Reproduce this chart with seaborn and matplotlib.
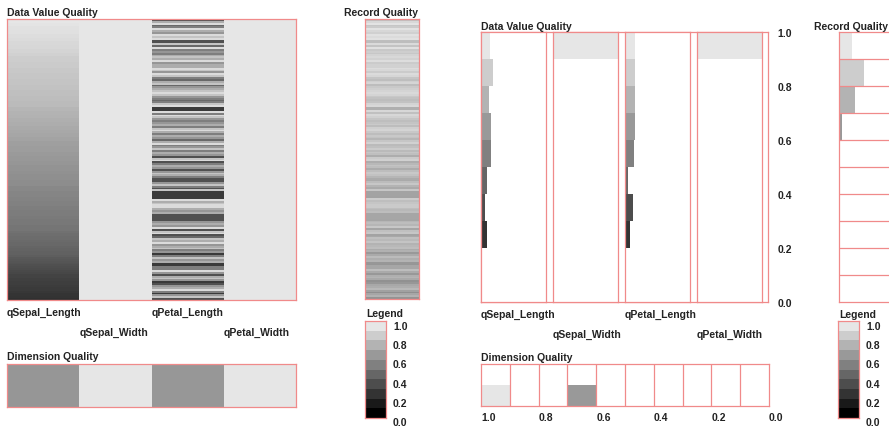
import numpy as np
import pandas as pd
import matplotlib
matplotlib.use("Agg")
import matplotlib.pyplot as plt
from matplotlib.colors import LinearSegmentedColormap
import seaborn as sns

W, H = 889, 431

# quality values per record (150 records)
dims = ["qSepal_Length", "qSepal_Width", "qPetal_Length", "qPetal_Width"]

q_sepal_length = [
    1.00, 1.00, 0.99, 0.99, 0.98, 0.98, 0.97, 0.97, 0.96, 0.96,
    0.95, 0.95, 0.94, 0.94, 0.93, 0.93, 0.92, 0.92, 0.91, 0.91,
    0.89, 0.89, 0.89, 0.88, 0.88, 0.88, 0.87, 0.87, 0.87, 0.86,
    0.86, 0.86, 0.85, 0.85, 0.85, 0.84, 0.84, 0.84, 0.83, 0.83,
    0.83, 0.82, 0.82, 0.82, 0.81, 0.81, 0.81,
    0.79, 0.79, 0.78, 0.78, 0.77, 0.77, 0.76, 0.76, 0.75, 0.75,
    0.74, 0.74, 0.73, 0.73, 0.72, 0.72, 0.71, 0.71,
    0.69, 0.69, 0.69, 0.68, 0.68, 0.68, 0.67, 0.67, 0.66, 0.66,
    0.66, 0.65, 0.65, 0.64, 0.64, 0.64, 0.63, 0.63, 0.62, 0.62,
    0.62, 0.61, 0.61, 0.61,
    0.59, 0.59, 0.59, 0.58, 0.58, 0.58, 0.57, 0.57, 0.56, 0.56,
    0.56, 0.55, 0.55, 0.54, 0.54, 0.54, 0.53, 0.53, 0.52, 0.52,
    0.52, 0.51, 0.51, 0.51,
    0.49, 0.48, 0.48, 0.47, 0.47, 0.46, 0.45, 0.45, 0.44, 0.43,
    0.43, 0.42, 0.42, 0.41,
    0.39, 0.38, 0.37, 0.36, 0.35, 0.34, 0.33, 0.32, 0.31,
    0.29, 0.29, 0.28, 0.28, 0.27, 0.27, 0.26, 0.25, 0.25, 0.24,
    0.23, 0.23, 0.22, 0.21,
]
q_sepal_width = [1.0] * 150
q_petal_length = [
    0.35, 0.75, 0.95, 0.45, 0.55, 0.95, 0.75, 0.65, 0.95, 0.85,
    0.95, 0.35, 0.35, 0.85, 0.45, 0.95, 0.55, 0.65, 0.55, 0.75,
    0.85, 0.75, 0.95, 0.65, 0.75, 0.75, 0.95, 0.85, 0.65, 0.95,
    0.85, 0.55, 0.45, 0.75, 0.85, 0.45, 0.65, 0.75, 0.85, 0.95,
    0.85, 0.65, 0.55, 0.45, 0.55, 0.85, 0.95, 0.25, 0.25, 0.95,
    0.55, 0.95, 0.85, 0.65, 0.55, 0.65, 0.75, 0.55, 0.85, 0.95,
    0.75, 0.55, 0.75, 0.65, 0.45, 0.75, 0.95, 0.55, 0.65, 0.85,
    0.55, 0.75, 0.65, 0.35, 0.85, 0.95, 0.35, 0.55, 0.75, 0.65,
    0.35, 0.65, 0.85, 0.75, 0.55, 0.35, 0.35, 0.65, 0.85, 0.55,
    0.35, 0.85, 0.25, 0.25, 0.25, 0.25, 0.95, 0.75, 0.85, 0.95,
    0.95, 0.75, 0.65, 0.75, 0.35, 0.35, 0.35, 0.35, 0.65, 0.75,
    0.65, 0.95, 0.35, 0.85, 0.95, 0.35, 0.45, 0.85, 0.75, 0.95,
    0.65, 0.75, 0.85, 0.55, 0.65, 0.25, 0.55, 0.85, 0.65, 0.75,
    0.25, 0.25, 0.55, 0.55, 0.95, 0.65, 0.35, 0.75, 0.85, 0.65,
    0.25, 0.35, 0.65, 0.75, 0.95, 0.55, 0.25, 0.65, 0.85, 0.35,
]
q_petal_width = [1.0] * 150

legend_levels = [0.9, 0.8, 0.7, 0.6, 0.5, 0.4, 0.3, 0.2, 0.1, 0.0]
axis_ticks = [1.0, 0.8, 0.6, 0.4, 0.2, 0.0]

df = pd.DataFrame({
    "qSepal_Length": q_sepal_length,
    "qSepal_Width": q_sepal_width,
    "qPetal_Length": q_petal_length,
    "qPetal_Width": q_petal_width,
})
dim_quality = df.mean()
record_quality = df.mean(axis=1)

sns.set_theme(style="white")
plt.rcParams["font.family"] = ["Liberation Sans", "DejaVu Sans"]

RED = "#f08a8a"
TXT = "#222222"
FS = 7.5
cmap = LinearSegmentedColormap.from_list("quality", ["#000000", "#e6e6e6"])

fig = plt.figure(figsize=(W / 100, H / 100), dpi=100)
fig.patch.set_facecolor("white")


def px_ax(x0, y0, x1, y1):
    return fig.add_axes([x0 / W, 1 - y1 / H, (x1 - x0) / W, (y1 - y0) / H])


def label(x, y, s):
    fig.text(x / W, 1 - y / H, s, ha="left", va="center", fontsize=FS,
             fontweight="bold", color=TXT)


def frame(ax):
    for s in ax.spines.values():
        s.set_visible(True)
        s.set_color(RED)
        s.set_linewidth(0.9)
    ax.set_xticks([])
    ax.set_yticks([])
    ax.set_xlabel("")
    ax.set_ylabel("")


def color_bins(ax, horizontal=True):
    for p in ax.patches:
        lo = p.get_y() if horizontal else p.get_x()
        k = min(int(round(lo * 10)), 9)
        p.set_facecolor(cmap(k / 9))
        p.set_edgecolor("none")


# ---------------- left view: heatmaps ----------------
ax = px_ax(7, 20, 296, 301)
sns.heatmap(df, ax=ax, cmap=cmap, vmin=0, vmax=1, cbar=False,
            xticklabels=False, yticklabels=False)
frame(ax)
label(7, 13, "Data Value Quality")
col_w = (296 - 7) / 4
for i, name in enumerate(dims):
    label(7 + i * col_w, 313 if i % 2 == 0 else 333, name)

ax = px_ax(7, 365, 296, 408)
sns.heatmap(dim_quality.to_frame().T, ax=ax, cmap=cmap, vmin=0, vmax=1,
            cbar=False, xticklabels=False, yticklabels=False)
frame(ax)
label(7, 357, "Dimension Quality")

ax = px_ax(365, 20, 419, 300)
sns.heatmap(record_quality.to_frame(), ax=ax, cmap=cmap, vmin=0, vmax=1,
            cbar=False, xticklabels=False, yticklabels=False)
frame(ax)
label(344, 13, "Record Quality")


def draw_legend(x0, y_title):
    lax = px_ax(x0, 322, x0 + 21, 419)
    sns.heatmap(np.array(legend_levels).reshape(-1, 1), ax=lax, cmap=cmap,
                vmin=0, vmax=0.9, cbar=False, xticklabels=False,
                yticklabels=False)
    frame(lax)
    label(x0 + 1, y_title, "Legend")
    for v in axis_ticks:
        label(x0 + 28, 327 + (1 - v) * 96, f"{v:.1f}")


draw_legend(365, 314)

# ---------------- right view: histograms ----------------
outer = px_ax(481, 33, 768, 303)
frame(outer)
outer.set_ylim(0, 1)
outer.yaxis.tick_right()
outer.set_yticks(axis_ticks)
outer.set_yticklabels([f"{v:.1f}" for v in axis_ticks], fontsize=FS,
                      fontweight="bold", color=TXT)
outer.tick_params(axis="y", length=0, pad=7)
label(481, 27, "Data Value Quality")

lefts = [481, 553, 625, 697]
for i, name in enumerate(dims):
    hax = px_ax(lefts[i], 33, lefts[i] + 65, 303)
    sns.histplot(y=df[name], bins=10, binrange=(0, 1), ax=hax,
                 alpha=1, linewidth=0)
    color_bins(hax)
    hax.set_xlim(0, 150)
    hax.set_ylim(0, 1)
    frame(hax)
    label(lefts[i], 315 if i % 2 == 0 else 335, name)

# record quality histogram (runs past the right edge)
rax = px_ax(839, 33, 915, 303)
sns.histplot(y=record_quality, bins=10, binrange=(0, 1), ax=rax,
             alpha=1, linewidth=0)
color_bins(rax)
rax.set_xlim(0, 200)
rax.set_ylim(0, 1)
for v in np.arange(1, 10) / 10:
    rax.axhline(v, color=RED, lw=0.9)
frame(rax)
label(814, 27, "Record Quality")

# dimension quality histogram
dax = px_ax(481, 365, 769, 407)
sns.histplot(x=dim_quality, bins=10, binrange=(0, 1), ax=dax,
             alpha=1, linewidth=0)
color_bins(dax, horizontal=False)
dax.set_xlim(1, 0)
dax.set_ylim(0, 4)
for v in np.arange(1, 10) / 10:
    dax.axvline(v, color=RED, lw=0.9)
frame(dax)
dax.set_xticks(axis_ticks)
dax.set_xticklabels([f"{v:.1f}" for v in axis_ticks], fontsize=FS,
                    fontweight="bold", color=TXT, ha="left")
dax.tick_params(axis="x", length=0, pad=4)
label(481, 358, "Dimension Quality")

draw_legend(838, 315)

fig.savefig("out.png", dpi=100)
